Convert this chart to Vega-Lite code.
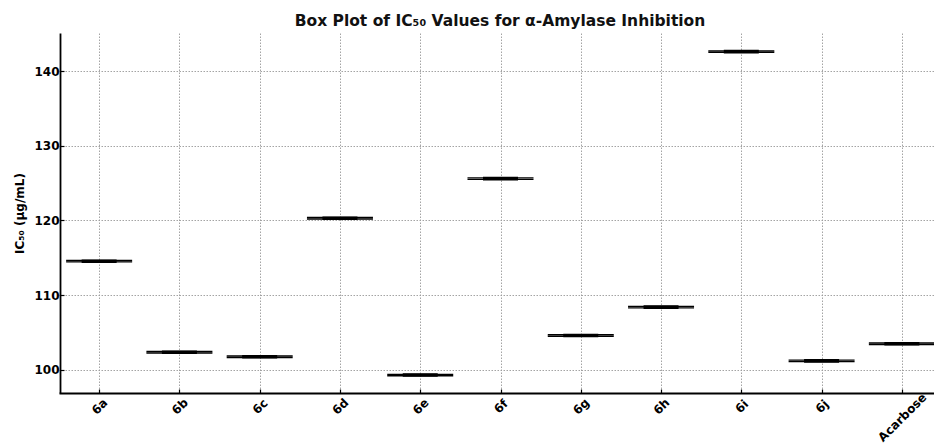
{
  "$schema": "https://vega.github.io/schema/vega-lite/v6.json",
  "width": 874,
  "height": 360,
  "autosize": "none",
  "padding": {"left": 60, "top": 33, "right": 0, "bottom": 53},
  "background": "white",
  "title": {
    "text": "Box Plot of IC₅₀ Values for α-Amylase Inhibition",
    "font": "DejaVu Sans",
    "fontSize": 15.5,
    "fontWeight": "bold",
    "color": "#111111",
    "anchor": "middle",
    "offset": 4,
    "dx": 3
  },
  "config": {
    "view": {"stroke": null},
    "axis": {
      "domainColor": "black",
      "domainWidth": 1.8,
      "tickColor": "black",
      "tickSize": -4,
      "tickWidth": 1.2,
      "labelFont": "DejaVu Sans",
      "labelFontWeight": "bold",
      "labelFontSize": 12,
      "labelColor": "black",
      "titleFont": "DejaVu Sans",
      "titleFontWeight": "bold",
      "titleFontSize": 12,
      "titleColor": "black",
      "grid": true,
      "gridColor": "#9a9a9a",
      "gridDash": [1.5, 1.5],
      "gridWidth": 0.9
    }
  },
  "data": {
    "values": [
      {"compound": "6a", "min": 114.45, "q1": 114.51, "median": 114.55, "q3": 114.59, "max": 114.65},
      {"compound": "6b", "min": 102.25, "q1": 102.31, "median": 102.35, "q3": 102.39, "max": 102.45},
      {"compound": "6c", "min": 101.65, "q1": 101.71, "median": 101.75, "q3": 101.79, "max": 101.85},
      {"compound": "6d", "min": 120.2, "q1": 120.26, "median": 120.3, "q3": 120.34, "max": 120.4},
      {"compound": "6e", "min": 99.2, "q1": 99.26, "median": 99.3, "q3": 99.34, "max": 99.4},
      {"compound": "6f", "min": 125.5, "q1": 125.56, "median": 125.6, "q3": 125.64, "max": 125.7},
      {"compound": "6g", "min": 104.5, "q1": 104.56, "median": 104.6, "q3": 104.64, "max": 104.7},
      {"compound": "6h", "min": 108.3, "q1": 108.36, "median": 108.4, "q3": 108.44, "max": 108.5},
      {"compound": "6i", "min": 142.5, "q1": 142.56, "median": 142.6, "q3": 142.64, "max": 142.7},
      {"compound": "6j", "min": 101.1, "q1": 101.16, "median": 101.2, "q3": 101.24, "max": 101.3},
      {"compound": "Acarbose", "min": 103.4, "q1": 103.46, "median": 103.5, "q3": 103.54, "max": 103.6}
    ]
  },
  "encoding": {
    "x": {
      "field": "compound",
      "type": "nominal",
      "sort": null,
      "scale": {"type": "point", "padding": 0.5, "range": [-1, 882]},
      "axis": {
        "title": null,
        "labelAngle": -45,
        "labelAlign": "center",
        "labelBaseline": "middle",
        "labelPadding": {"condition": {"test": "datum.value === 'Acarbose'", "value": 28}, "value": 17},
        "labelOverlap": false,
        "labelBound": false,
        "labelFlush": false
      }
    }
  },
  "layer": [
    {
      "mark": {"type": "rule", "color": "black", "strokeWidth": 1.2},
      "encoding": {
        "y": {
          "field": "min",
          "type": "quantitative",
          "title": "IC₅₀ (µg/mL)",
          "scale": {"domain": [96.9, 145.1], "nice": false, "zero": false},
          "axis": {"values": [100, 110, 120, 130, 140], "labelPadding": 5, "titlePadding": 7}
        },
        "y2": {"field": "max"}
      }
    },
    {
      "mark": {"type": "tick", "color": "black", "size": 66, "thickness": 1.4, "opacity": 1},
      "encoding": {"y": {"field": "min", "type": "quantitative", "title": "IC₅₀ (µg/mL)"}}
    },
    {
      "mark": {"type": "tick", "color": "black", "size": 66, "thickness": 1.4, "opacity": 1},
      "encoding": {"y": {"field": "max", "type": "quantitative", "title": "IC₅₀ (µg/mL)"}}
    },
    {
      "mark": {"type": "bar", "fill": "black", "stroke": "black", "strokeWidth": 3, "width": 32},
      "encoding": {
        "y": {"field": "q1", "type": "quantitative", "title": "IC₅₀ (µg/mL)"},
        "y2": {"field": "q3"}
      }
    },
    {
      "mark": {"type": "tick", "color": "black", "size": 34, "thickness": 1.5, "opacity": 1},
      "encoding": {"y": {"field": "median", "type": "quantitative", "title": "IC₅₀ (µg/mL)"}}
    }
  ]
}
